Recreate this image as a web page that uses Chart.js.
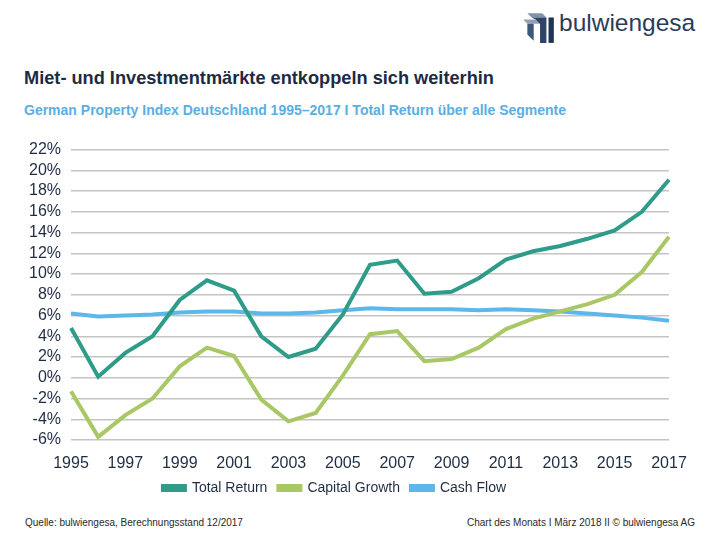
<!DOCTYPE html>
<html>
<head>
    <title>Miet- und Investmentmärkte</title>
    <style>
        body {
            margin: 0;
            width: 720px;
            height: 540px;
            position: relative;
            background: #fff;
            font-family: "Liberation Sans", Arial, sans-serif;
            overflow: hidden;
        }
        #logo {
            position: absolute;
            left: 521px;
            top: 9px;
        }
        #brand {
            position: absolute;
            left: 559px;
            top: 9px;
            font-size: 24.5px;
            color: #2c3c58;
        }
        #title {
            position: absolute;
            left: 24px;
            top: 68px;
            font-size: 18.2px;
            font-weight: bold;
            color: #1c2b44;
        }
        #subtitle {
            position: absolute;
            left: 24px;
            top: 102px;
            font-size: 14px;
            font-weight: bold;
            color: #5aaee2;
        }
        #chart-container {
            position: absolute;
            left: 0;
            top: 130px;
        }
        .foot {
            position: absolute;
            top: 517px;
            font-size: 10px;
            color: #2a2a2a;
        }
    </style>
</head>
<body>
<svg id="logo" width="36" height="36" viewBox="0 0 34 34">
    <polygon points="6,4 20,4 24,8 10,8" fill="#7f93ad"/>
    <polygon points="2,10 18,10 22,14 6,14" fill="#8fa2ba"/>
    <polygon points="10,8 24,8 24,32 18,32 18,14 14,10" fill="#2d4466"/>
    <polygon points="6,14 12,14 12,30 6,24" fill="#3e5677"/>
    <polygon points="26,8 31,8 31,32 26,32" fill="#1f3454"/>
</svg>
<div id="brand">bulwiengesa</div>
<div id="title">Miet- und Investmentmärkte entkoppeln sich weiterhin</div>
<div id="subtitle">German Property Index Deutschland 1995–2017 I Total Return über alle Segmente</div>

<div id="chart-container">
    <canvas id="gpiChart" width="720" height="380"></canvas>
</div>

<div class="foot" style="left:25px;">Quelle: bulwiengesa, Berechnungsstand 12/2017</div>
<div class="foot" style="right:25px;">Chart des Monats I März 2018 II © bulwiengesa AG</div>

<script src="https://cdn.jsdelivr.net/npm/chart.js"></script>

<script>
    const years = ['1995', '1996', '1997', '1998', '1999', '2000', '2001', '2002', '2003', '2004', '2005', '2006',
        '2007', '2008', '2009', '2010', '2011', '2012', '2013', '2014', '2015', '2016', '2017'];
    const totalReturn = [4.8, 0.1, 2.4, 4.0, 7.5, 9.4, 8.4, 4.0, 2.0, 2.8, 6.1, 10.9,
        11.3, 8.1, 8.3, 9.6, 11.4, 12.2, 12.7, 13.4, 14.2, 16.0, 19.1];
    const capitalGrowth = [-1.3, -5.7, -3.6, -2.0, 1.1, 2.9, 2.1, -2.1, -4.2, -3.4, 0.2, 4.2,
        4.5, 1.6, 1.8, 2.9, 4.7, 5.7, 6.4, 7.1, 8.0, 10.2, 13.6];
    const cashFlow = [6.2, 5.9, 6.0, 6.1, 6.3, 6.4, 6.4, 6.2, 6.2, 6.3, 6.5, 6.7,
        6.6, 6.6, 6.6, 6.5, 6.6, 6.5, 6.4, 6.2, 6.0, 5.8, 5.5];
    const yMin = -6;
    const yMax = 22;
    const yStep = 2;

    const ctx = document.getElementById('gpiChart').getContext('2d');

    new Chart(ctx, {
        type: 'line',
        data: {
            labels: years,
            datasets: [
                {label: 'Total Return', data: totalReturn, borderColor: '#2e9c89', backgroundColor: '#2e9c89'},
                {label: 'Capital Growth', data: capitalGrowth, borderColor: '#a9c865', backgroundColor: '#a9c865'},
                {label: 'Cash Flow', data: cashFlow, borderColor: '#5cb8ea', backgroundColor: '#5cb8ea'}
            ]
        },
        options: {
            responsive: false,
            animation: false,
            devicePixelRatio: 1,
            elements: {
                line: {borderWidth: 4, tension: 0},
                point: {radius: 0}
            },
            layout: {
                padding: {left: 0, right: 51, top: 18, bottom: 5}
            },
            plugins: {
                tooltip: {enabled: false},
                legend: {
                    position: 'bottom',
                    labels: {
                        boxWidth: 22,
                        boxHeight: 4,
                        padding: 11,
                        color: '#1f2d44',
                        font: {family: '"Liberation Sans", Arial, sans-serif', size: 14}
                    }
                }
            },
            scales: {
                x: {
                    grid: {display: false},
                    border: {display: false},
                    afterFit: scale => { scale.height = 30; },
                    ticks: {
                        autoSkip: false,
                        maxRotation: 0,
                        padding: 6,
                        color: '#1f2d44',
                        font: {family: '"Liberation Sans", Arial, sans-serif', size: 16},
                        callback: function (value, index) {
                            return index % 2 === 0 ? this.getLabelForValue(value) : '';
                        }
                    }
                },
                y: {
                    min: yMin,
                    max: yMax,
                    afterFit: scale => { scale.width = 71; },
                    grid: {color: '#c4c4c4', lineWidth: 1.5, drawTicks: false},
                    border: {display: false},
                    ticks: {
                        stepSize: yStep,
                        autoSkip: false,
                        padding: 10,
                        color: '#1f2d44',
                        font: {family: '"Liberation Sans", Arial, sans-serif', size: 16},
                        callback: value => value + '%'
                    }
                }
            }
        }
    });
</script>
</body>
</html>
